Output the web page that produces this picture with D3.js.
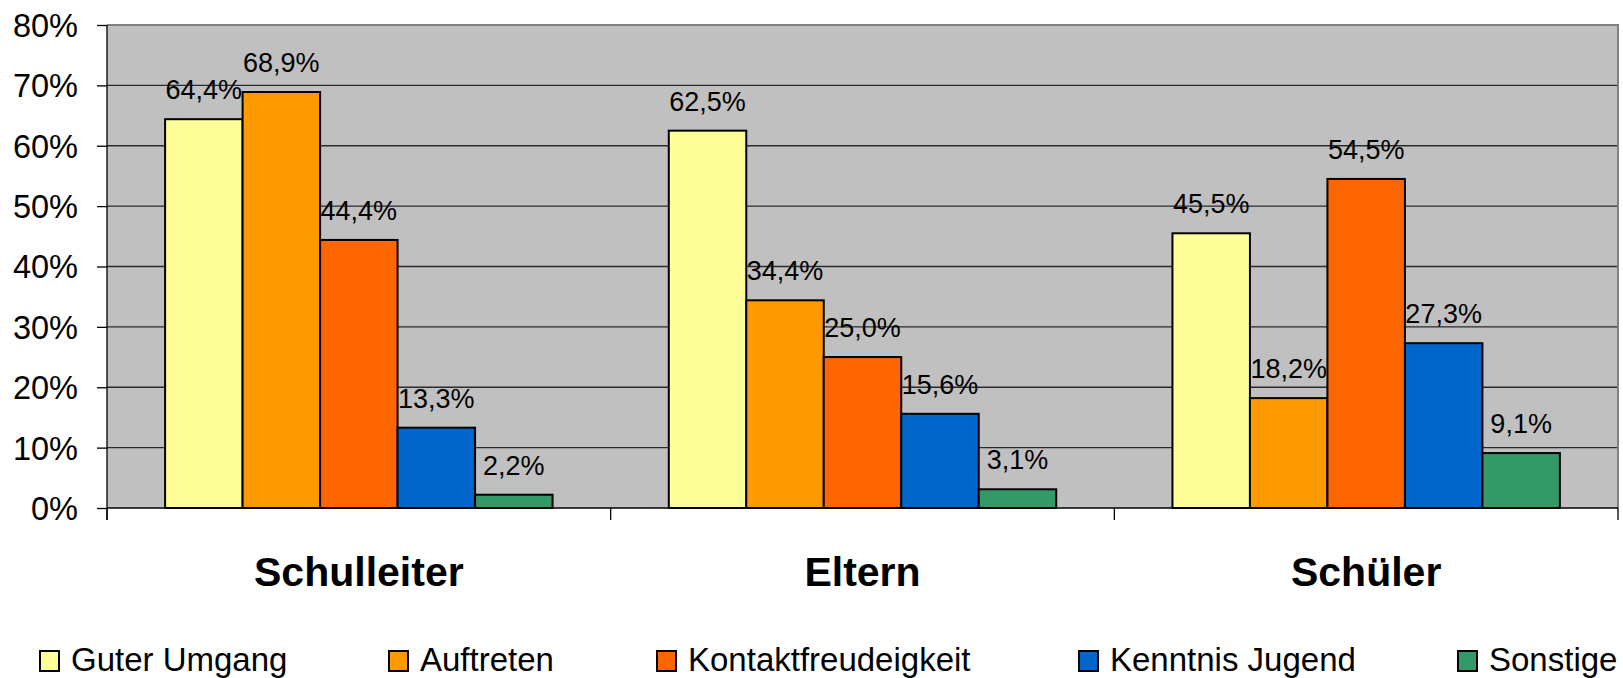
<!DOCTYPE html>
<html><head><meta charset="utf-8">
<script src="https://cdn.jsdelivr.net/npm/d3@7"></script>
<style>body{margin:0;background:#fff}svg{display:block}text{font-family:Arial,"Liberation Sans",sans-serif;fill:#000}</style>
</head><body><svg id="c" width="1623" height="678"></svg>
<script>
const categories = ["Schulleiter", "Eltern", "Schüler"];
const seriesNames = ["Guter Umgang", "Auftreten", "Kontaktfreudeigkeit", "Kenntnis Jugend", "Sonstige"];
const guterUmgang = [64.4, 62.5, 45.5];
const auftreten = [68.9, 34.4, 18.2];
const kontakt = [44.4, 25.0, 54.5];
const kenntnis = [13.3, 15.6, 27.3];
const sonstige = [2.2, 3.1, 9.1];
const yTicks = [0, 10, 20, 30, 40, 50, 60, 70, 80];
const colors = ["#FFFF99", "#FF9900", "#FF6600", "#0066CC", "#339966"];
const seriesValues = [guterUmgang, auftreten, kontakt, kenntnis, sonstige];

(function () {
const svg = d3.select("#c");
const pL = 107, pR = 1618, pT = 25, pB = 508;
const x0 = d3.scaleBand().domain(categories).range([pL, pR]);
const gw = x0.bandwidth();
const bw = gw / 6.5;
const x1 = d3.scaleBand().domain(seriesNames).range([bw * 0.75, gw - bw * 0.75]);
const y = d3.scaleLinear().domain([0, 80]).range([pB, pT]);
const fmt = v => v.toFixed(1).replace(".", ",") + "%";

svg.append("rect").attr("x", pL).attr("y", pT).attr("width", pR - pL).attr("height", pB - pT).attr("fill", "#C0C0C0");
svg.append("g").selectAll("line").data(yTicks.filter(d => d > 0 && d < 80)).join("line")
  .attr("x1", pL).attr("x2", pR).attr("y1", d => y(d)).attr("y2", d => y(d))
  .attr("stroke", "#2a2a2a").attr("stroke-width", 1.3);
svg.append("path").attr("d", `M${pL},${pT}H${pR}V${pB}`).attr("fill", "none").attr("stroke", "#808080").attr("stroke-width", 2);

const yAxis = d3.axisLeft(y).tickValues(yTicks).tickSize(10).tickPadding(19).tickFormat(d => d + "%");
const ya = svg.append("g").attr("transform", `translate(${pL},0)`).call(yAxis);
ya.select(".domain").attr("stroke", "#000").attr("stroke-width", 1.3).attr("d", `M0,${pT}V${pB + 12}`);
ya.selectAll(".tick line").attr("stroke", "#000").attr("stroke-width", 1.3);
ya.selectAll(".tick text").style("font-size", "32.5px").attr("dy", "0.35em").attr("fill", "#000");

svg.append("line").attr("x1", pL).attr("x2", pR).attr("y1", pB).attr("y2", pB).attr("stroke", "#000").attr("stroke-width", 1.5);
const bounds = categories.map(c => x0(c)).concat([pR]);
svg.append("g").selectAll("line").data(bounds).join("line")
  .attr("x1", d => d).attr("x2", d => d).attr("y1", pB).attr("y2", pB + 12)
  .attr("stroke", "#000").attr("stroke-width", 1.3);

const data = [];
categories.forEach((c, i) => seriesNames.forEach((s, j) => data.push({c, s, j, v: seriesValues[j][i]})));
svg.append("g").selectAll("rect").data(data).join("rect")
  .attr("x", d => x0(d.c) + x1(d.s)).attr("width", x1.bandwidth())
  .attr("y", d => y(d.v)).attr("height", d => y(0) - y(d.v))
  .attr("fill", d => colors[d.j]).attr("stroke", "#000").attr("stroke-width", 2);
svg.append("g").selectAll("text").data(data).join("text")
  .attr("x", d => x0(d.c) + x1(d.s) + x1.bandwidth() / 2).attr("y", d => y(d.v) - 20)
  .attr("text-anchor", "middle").style("font-size", "27px").text(d => fmt(d.v));

svg.append("g").selectAll("text").data(categories).join("text")
  .attr("x", d => x0(d) + gw / 2).attr("y", 586).attr("text-anchor", "middle")
  .style("font-size", "41px").style("font-weight", "bold").text(d => d);

const legendX = [40, 389, 657, 1079, 1458];
const lg = svg.append("g").selectAll("g").data(seriesNames).join("g")
  .attr("transform", (d, i) => `translate(${legendX[i]},651)`);
lg.append("rect").attr("width", 19).attr("height", 20).attr("fill", (d, i) => colors[i]).attr("stroke", "#000").attr("stroke-width", 2);
lg.append("text").attr("x", 31).attr("y", 20).style("font-size", "33px").text(d => d);
})();
</script></body></html>
